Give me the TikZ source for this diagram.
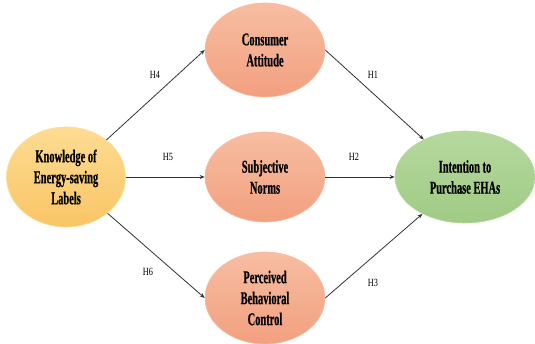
\documentclass[tikz,border=0pt]{standalone}
\usepackage{fontspec}
\setmainfont{Liberation Serif}
\newfontfamily\boxfont[FakeStretch=0.58,FakeBold=0.6]{Liberation Serif}
\newfontfamily\hypfont[FakeStretch=0.75]{Liberation Serif}
\usepackage{tikz}
\usetikzlibrary{shapes.geometric,arrows.meta,positioning}
\definecolor{yelTop}{HTML}{FDDC92}
\definecolor{yelBot}{HTML}{F9C566}
\definecolor{orTop}{HTML}{F7BDA2}
\definecolor{orBot}{HTML}{F2A07F}
\definecolor{grTop}{HTML}{B6D89F}
\definecolor{grBot}{HTML}{9FCB84}
\definecolor{lineGray}{HTML}{333333}

\begin{document}
\begin{tikzpicture}[x=1pt, y=-1pt, >={Stealth[length=5pt,width=4pt]}]
   \useasboundingbox (0,0) rectangle (535,344);
   \begin{scope}[every node/.style={ellipse, align=center, inner sep=0pt,
        font=\boxfont\bfseries\fontsize{18}{21}\selectfont, line width=0.6pt}]
    \node (know) at (66,177) [minimum width=119pt, minimum height=100pt,
        top color=yelTop, bottom color=yelBot, draw=yelTop] {Knowledge of\\Energy-saving\\Labels};
    \node (att) at (265,50) [minimum width=120pt, minimum height=94pt,
        top color=orTop, bottom color=orBot, draw=orTop] {Consumer\\Attitude};
    \node (norm) at (265,177) [minimum width=120pt, minimum height=90pt,
        top color=orTop, bottom color=orBot, draw=orTop] {Subjective\\Norms};
    \node (pbc) at (265,298) [minimum width=120pt, minimum height=92pt,
        top color=orTop, bottom color=orBot, draw=orTop] {Perceived\\Behavioral\\Control};
    \node (int) at (465,177) [minimum width=140pt, minimum height=92pt,
        top color=grTop, bottom color=grBot, draw=grTop] {Intention to\\Purchase EHAs};
   \end{scope}
   \begin{scope}[every node/.style={font=\hypfont\fontsize{11}{12}\selectfont}]
    \node (h4) at (155,75) {H4};
    \node (h5) at (168,157) {H5};
    \node (h6) at (148,272) {H6};
    \node (h1) at (373,75) {H1};
    \node (h2) at (354,157) {H2};
    \node (h3) at (373,283) {H3};
   \end{scope}
   \begin{scope}[every edge/.style={draw=lineGray, line width=0.8pt, ->}]
    \draw (know) edge (att.west);
    \draw (know) edge (norm.west);
    \draw (know) edge (pbc.west);
    \draw (att.east) edge (int);
    \draw (norm.east) edge (int.west);
    \draw (pbc.east) edge (int);
   \end{scope}
\end{tikzpicture}
\end{document}
